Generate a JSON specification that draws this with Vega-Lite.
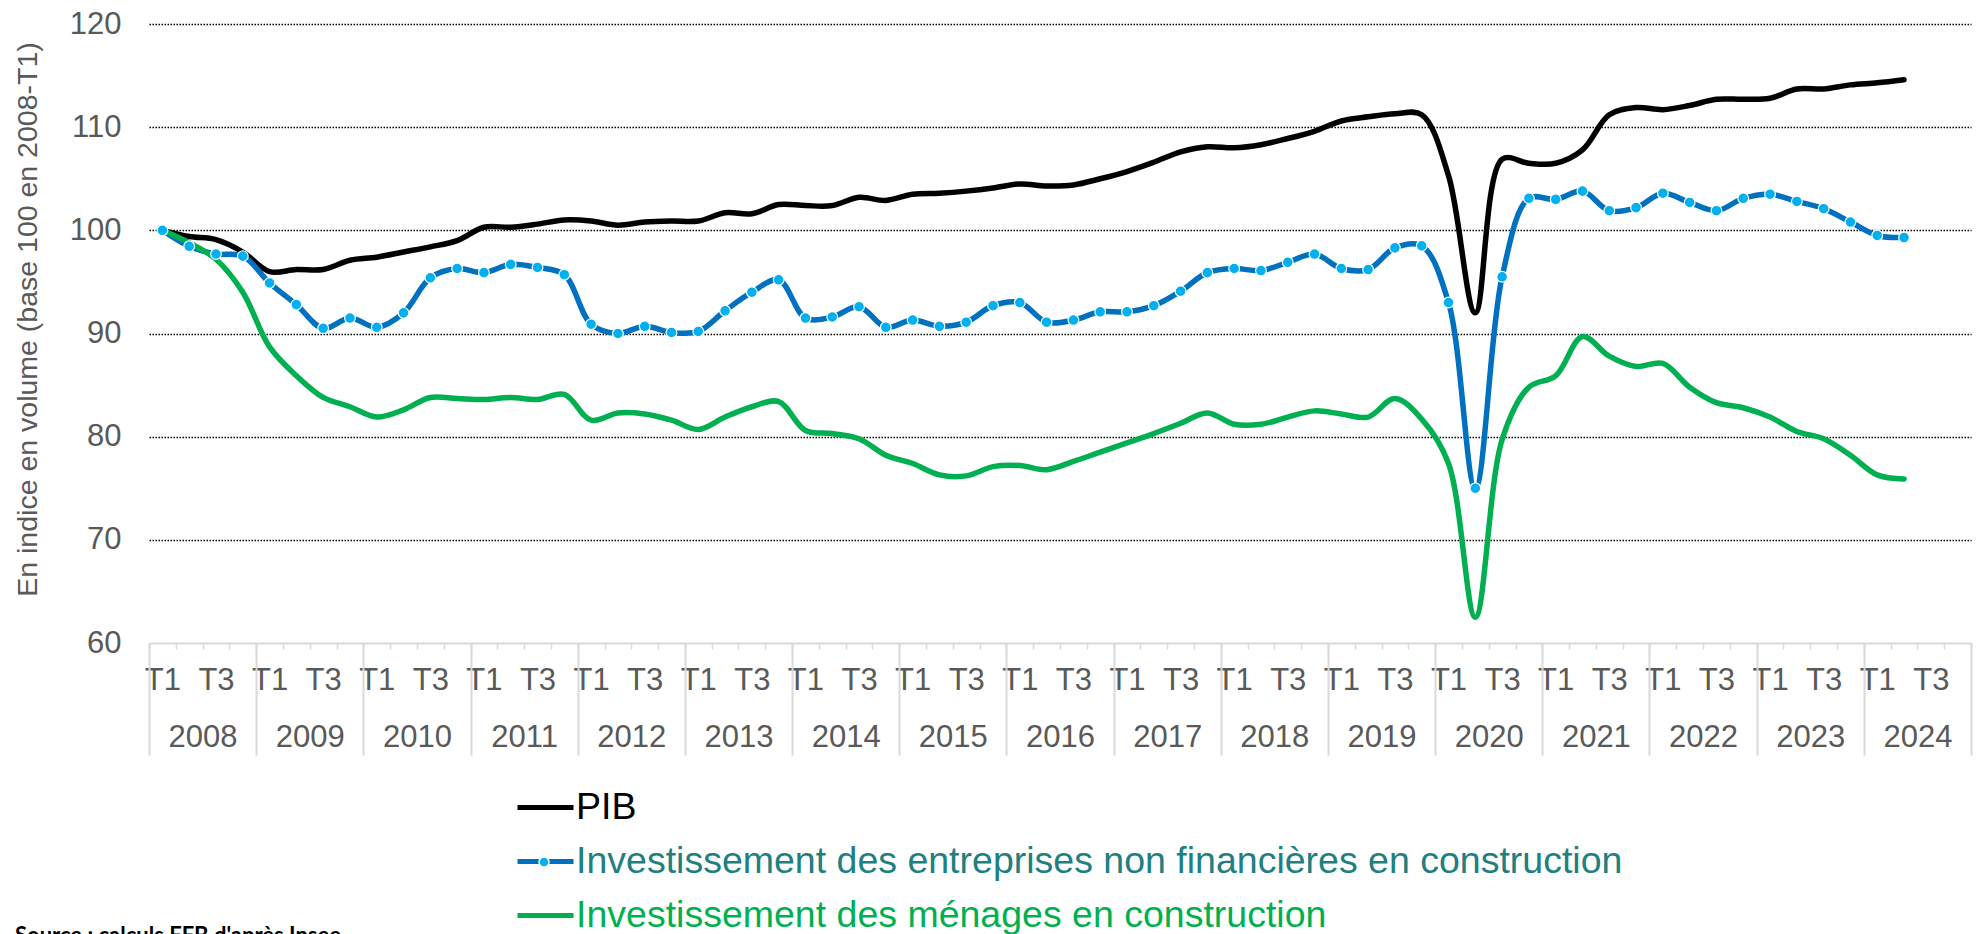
{
  "$schema": "https://vega.github.io/schema/vega-lite/v6.json",
  "width": 1822,
  "height": 619,
  "autosize": {"type": "none"},
  "padding": {"left": 149, "top": 24, "right": 9, "bottom": 291},
  "background": "#FFFFFF",
  "config": {"view": {"stroke": null}, "font": "Liberation Sans"},
  "title": {"text": "Source : calculs FFB d'après Insee", "orient": "bottom", "anchor": "start", "frame": "group", "font": "Lato", "fontSize": 22, "fontWeight": "bold", "color": "#000000", "dx": -134, "dy": -8, "offset": 0},
  "data": {"values": [
    {"q":"2008-T1","year":"2008","PIB":100.0,"ENT":100.0,"MEN":100.0},
    {"q":"2008-T2","year":"2008","PIB":99.4,"ENT":98.45,"MEN":98.8},
    {"q":"2008-T3","year":"2008","PIB":99.1,"ENT":97.7,"MEN":97.2},
    {"q":"2008-T4","year":"2008","PIB":97.9,"ENT":97.5,"MEN":94.0},
    {"q":"2009-T1","year":"2009","PIB":96.0,"ENT":94.9,"MEN":88.7},
    {"q":"2009-T2","year":"2009","PIB":96.2,"ENT":92.8,"MEN":85.9},
    {"q":"2009-T3","year":"2009","PIB":96.2,"ENT":90.5,"MEN":83.8},
    {"q":"2009-T4","year":"2009","PIB":97.1,"ENT":91.5,"MEN":82.9},
    {"q":"2010-T1","year":"2010","PIB":97.4,"ENT":90.6,"MEN":81.9},
    {"q":"2010-T2","year":"2010","PIB":97.9,"ENT":92.0,"MEN":82.6},
    {"q":"2010-T3","year":"2010","PIB":98.4,"ENT":95.4,"MEN":83.8},
    {"q":"2010-T4","year":"2010","PIB":99.0,"ENT":96.3,"MEN":83.7},
    {"q":"2011-T1","year":"2011","PIB":100.3,"ENT":95.9,"MEN":83.6},
    {"q":"2011-T2","year":"2011","PIB":100.3,"ENT":96.7,"MEN":83.8},
    {"q":"2011-T3","year":"2011","PIB":100.6,"ENT":96.4,"MEN":83.6},
    {"q":"2011-T4","year":"2011","PIB":101.0,"ENT":95.7,"MEN":84.1},
    {"q":"2012-T1","year":"2012","PIB":100.9,"ENT":90.9,"MEN":81.6},
    {"q":"2012-T2","year":"2012","PIB":100.5,"ENT":90.0,"MEN":82.3},
    {"q":"2012-T3","year":"2012","PIB":100.8,"ENT":90.7,"MEN":82.2},
    {"q":"2012-T4","year":"2012","PIB":100.9,"ENT":90.1,"MEN":81.6},
    {"q":"2013-T1","year":"2013","PIB":100.9,"ENT":90.2,"MEN":80.7},
    {"q":"2013-T2","year":"2013","PIB":101.7,"ENT":92.2,"MEN":81.9},
    {"q":"2013-T3","year":"2013","PIB":101.6,"ENT":94.0,"MEN":82.9},
    {"q":"2013-T4","year":"2013","PIB":102.5,"ENT":95.2,"MEN":83.4},
    {"q":"2014-T1","year":"2014","PIB":102.4,"ENT":91.5,"MEN":80.6},
    {"q":"2014-T2","year":"2014","PIB":102.4,"ENT":91.6,"MEN":80.3},
    {"q":"2014-T3","year":"2014","PIB":103.2,"ENT":92.6,"MEN":79.8},
    {"q":"2014-T4","year":"2014","PIB":102.9,"ENT":90.6,"MEN":78.2},
    {"q":"2015-T1","year":"2015","PIB":103.5,"ENT":91.3,"MEN":77.4},
    {"q":"2015-T2","year":"2015","PIB":103.6,"ENT":90.7,"MEN":76.3},
    {"q":"2015-T3","year":"2015","PIB":103.8,"ENT":91.1,"MEN":76.2},
    {"q":"2015-T4","year":"2015","PIB":104.1,"ENT":92.7,"MEN":77.1},
    {"q":"2016-T1","year":"2016","PIB":104.5,"ENT":93.0,"MEN":77.2},
    {"q":"2016-T2","year":"2016","PIB":104.3,"ENT":91.1,"MEN":76.8},
    {"q":"2016-T3","year":"2016","PIB":104.4,"ENT":91.3,"MEN":77.6},
    {"q":"2016-T4","year":"2016","PIB":105.0,"ENT":92.1,"MEN":78.5},
    {"q":"2017-T1","year":"2017","PIB":105.7,"ENT":92.1,"MEN":79.4},
    {"q":"2017-T2","year":"2017","PIB":106.6,"ENT":92.7,"MEN":80.3},
    {"q":"2017-T3","year":"2017","PIB":107.6,"ENT":94.1,"MEN":81.3},
    {"q":"2017-T4","year":"2017","PIB":108.1,"ENT":95.9,"MEN":82.3},
    {"q":"2018-T1","year":"2018","PIB":108.0,"ENT":96.3,"MEN":81.2},
    {"q":"2018-T2","year":"2018","PIB":108.3,"ENT":96.1,"MEN":81.2},
    {"q":"2018-T3","year":"2018","PIB":108.9,"ENT":96.9,"MEN":81.9},
    {"q":"2018-T4","year":"2018","PIB":109.6,"ENT":97.7,"MEN":82.5},
    {"q":"2019-T1","year":"2019","PIB":110.6,"ENT":96.3,"MEN":82.2},
    {"q":"2019-T2","year":"2019","PIB":111.0,"ENT":96.2,"MEN":81.9},
    {"q":"2019-T3","year":"2019","PIB":111.3,"ENT":98.3,"MEN":83.7},
    {"q":"2019-T4","year":"2019","PIB":111.2,"ENT":98.5,"MEN":81.7},
    {"q":"2020-T1","year":"2020","PIB":105.3,"ENT":93.0,"MEN":77.4},
    {"q":"2020-T2","year":"2020","PIB":92.0,"ENT":75.0,"MEN":62.5},
    {"q":"2020-T3","year":"2020","PIB":106.9,"ENT":95.5,"MEN":79.7},
    {"q":"2020-T4","year":"2020","PIB":106.5,"ENT":103.1,"MEN":84.8},
    {"q":"2021-T1","year":"2021","PIB":106.5,"ENT":103.0,"MEN":85.9},
    {"q":"2021-T2","year":"2021","PIB":107.8,"ENT":103.8,"MEN":89.7},
    {"q":"2021-T3","year":"2021","PIB":111.2,"ENT":101.9,"MEN":87.8},
    {"q":"2021-T4","year":"2021","PIB":111.9,"ENT":102.2,"MEN":86.8},
    {"q":"2022-T1","year":"2022","PIB":111.7,"ENT":103.6,"MEN":87.1},
    {"q":"2022-T2","year":"2022","PIB":112.1,"ENT":102.7,"MEN":84.8},
    {"q":"2022-T3","year":"2022","PIB":112.7,"ENT":101.9,"MEN":83.3},
    {"q":"2022-T4","year":"2022","PIB":112.7,"ENT":103.1,"MEN":82.8},
    {"q":"2023-T1","year":"2023","PIB":112.8,"ENT":103.5,"MEN":81.9},
    {"q":"2023-T2","year":"2023","PIB":113.7,"ENT":102.8,"MEN":80.5},
    {"q":"2023-T3","year":"2023","PIB":113.7,"ENT":102.1,"MEN":79.8},
    {"q":"2023-T4","year":"2023","PIB":114.1,"ENT":100.8,"MEN":78.2},
    {"q":"2024-T1","year":"2024","PIB":114.3,"ENT":99.5,"MEN":76.3},
    {"q":"2024-T2","year":"2024","PIB":114.6,"ENT":99.3,"MEN":75.9}
  ]},
  "transform": [{"fold": ["PIB", "ENT", "MEN"], "as": ["s", "v"]}],
  "layer": [
    {
      "layer": [
        {
          "mark": {"type": "line", "interpolate": "catmull-rom", "strokeWidth": 5.5, "strokeCap": "round", "strokeJoin": "round"},
          "encoding": {
            "x": {
              "field": "q", "type": "ordinal", "bandPosition": 0.5,
              "scale": {"type": "band", "paddingInner": 0, "paddingOuter": 0, "domain": ["2008-T1","2008-T2","2008-T3","2008-T4","2009-T1","2009-T2","2009-T3","2009-T4","2010-T1","2010-T2","2010-T3","2010-T4","2011-T1","2011-T2","2011-T3","2011-T4","2012-T1","2012-T2","2012-T3","2012-T4","2013-T1","2013-T2","2013-T3","2013-T4","2014-T1","2014-T2","2014-T3","2014-T4","2015-T1","2015-T2","2015-T3","2015-T4","2016-T1","2016-T2","2016-T3","2016-T4","2017-T1","2017-T2","2017-T3","2017-T4","2018-T1","2018-T2","2018-T3","2018-T4","2019-T1","2019-T2","2019-T3","2019-T4","2020-T1","2020-T2","2020-T3","2020-T4","2021-T1","2021-T2","2021-T3","2021-T4","2022-T1","2022-T2","2022-T3","2022-T4","2023-T1","2023-T2","2023-T3","2023-T4","2024-T1","2024-T2","2024-T3","2024-T4"]},
              "axis": {"orient": "bottom", "title": null, "labelExpr": "(substring(datum.value,5,7) === 'T1' || substring(datum.value,5,7) === 'T3') ? substring(datum.value,5,7) : ''", "labelAngle": 0, "labelFont": "Liberation Sans", "labelFontSize": 31, "labelColor": "#595959", "labelPadding": 16, "labelOverlap": false, "labelBound": false, "labelFlush": false, "domainColor": "#D9D9D9", "domainWidth": 2, "ticks": true, "tickBand": "extent", "tickColor": "#D9D9D9", "tickWidth": 1.5, "tickSize": 6, "grid": false}
            },
            "y": {
              "field": "v", "type": "quantitative",
              "scale": {"domain": [60, 120], "nice": false, "zero": false},
              "axis": {"title": "En indice en volume (base 100 en 2008-T1)", "titleFont": "Liberation Sans", "titleFontSize": 28.5, "titleFontWeight": "normal", "titleColor": "#595959", "titleAngle": 270, "titleAlign": "center", "titleBaseline": "middle", "titleX": -122, "titleY": 295, "values": [60, 70, 80, 90, 100, 110, 120], "labelFont": "Liberation Sans", "labelFontSize": 31, "labelColor": "#595959", "labelPadding": 28, "domain": false, "ticks": false, "grid": true, "gridColor": "#000000", "gridDash": [1.5, 1.5], "gridWidth": 1.3, "gridOpacity": {"condition": {"test": "datum.value === 60", "value": 0}, "value": 1}}
            },
            "color": {
              "field": "s", "type": "nominal",
              "scale": {"domain": ["PIB", "ENT", "MEN"], "range": ["#000000", "#0070C0", "#00B050"]},
              "legend": {"orient": "none", "legendX": 366, "legendY": 753, "direction": "vertical", "title": null, "padding": 0, "symbolType": "stroke", "symbolSize": 3136, "symbolStrokeWidth": 5, "labelFont": "Liberation Sans", "labelFontSize": 37.5, "labelOffset": 0, "rowPadding": 5, "labelLimit": 2000,
                "labelExpr": "datum.value === 'PIB' ? 'PIB' : datum.value === 'ENT' ? 'Investissement des entreprises non financières en construction' : 'Investissement des ménages en construction'",
                "encode": {"labels": {"update": {"fill": {"signal": "datum.value === 'PIB' ? '#000000' : datum.value === 'ENT' ? '#207F80' : '#00B050'"}}}}}
            }
          }
        },
        {
          "transform": [{"filter": "datum.s === 'ENT'"}],
          "mark": {"type": "point", "filled": true, "size": 115, "stroke": "#FFFFFF", "strokeWidth": 1.2, "opacity": 1},
          "encoding": {
            "x": {"field": "q", "type": "ordinal", "bandPosition": 0.5},
            "y": {"field": "v", "type": "quantitative"},
            "fill": {
              "field": "s", "type": "nominal",
              "scale": {"domain": ["ENT"], "range": ["#00B0F0"]},
              "legend": {"orient": "none", "legendX": 389, "legendY": 832, "title": null, "padding": 0, "symbolType": "circle", "symbolSize": 100, "symbolStrokeColor": "#FFFFFF", "symbolStrokeWidth": 1.5, "symbolOpacity": 1, "labelOpacity": 0, "labelFontSize": 6, "zindex": 5}
            }
          }
        }
      ]
    },
    {
      "mark": {"type": "point", "opacity": 0},
      "encoding": {
        "x": {
          "field": "year", "type": "ordinal",
          "scale": {"type": "band", "paddingInner": 0, "paddingOuter": 0, "domain": ["2008","2009","2010","2011","2012","2013","2014","2015","2016","2017","2018","2019","2020","2021","2022","2023","2024"]},
          "axis": {"orient": "bottom", "title": null, "labelAngle": 0, "labelFont": "Liberation Sans", "labelFontSize": 31, "labelColor": "#595959", "labelPadding": -33, "labelOverlap": false, "labelBound": false, "labelFlush": false, "domain": false, "ticks": true, "tickBand": "extent", "tickColor": "#D9D9D9", "tickWidth": 2, "tickSize": 112, "grid": false}
        },
        "y": {"field": "v", "type": "quantitative", "scale": {"domain": [60, 120], "nice": false, "zero": false}}
      }
    }
  ],
  "resolve": {"scale": {"x": "independent"}, "axis": {"x": "independent"}}
}
